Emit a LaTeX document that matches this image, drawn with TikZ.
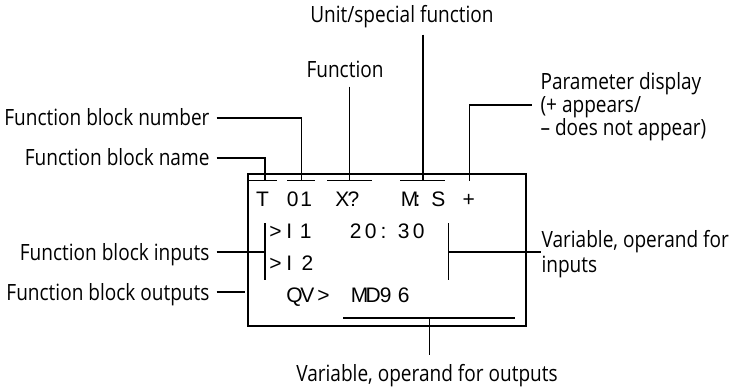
\documentclass[tikz,border=0pt]{standalone}
\usepackage{fontspec}
\setmainfont{Open Sans}[FakeStretch=0.85]
\newfontfamily\lcdfont{Liberation Sans}
\usetikzlibrary{positioning, calc}

\begin{document}
\begin{tikzpicture}[x=1pt, y=-1pt, line width=1.1pt,
    lbl/.style={inner sep=0pt, text height=16pt, text depth=0pt,
                font=\fontsize{22.4}{25}\selectfont},
    lcd/.style={inner sep=0pt, anchor=base west,
                font=\lcdfont\fontsize{21}{24}\selectfont}]
  \useasboundingbox (0,0) rectangle (738,390);

  % display
  \draw (248,174) rectangle (526,326);
  \foreach \i/\x/\y/\txt in {
      1/255.6/206/T, 2/286.2/206/0, 3/299.7/206/1, 4/334.8/206/X, 5/347/206/?,
      6/400.2/206/M, 7/414/206/:, 8/430.7/206/S, 9/462/206/+,
      10/268.7/238.5/>, 11/285.8/238.5/I, 12/299.4/238.5/1, 13/349.4/238.5/2,
      14/364.2/238.5/0, 15/380.1/238.5/:, 16/397.2/238.5/3, 17/412.2/238.5/0,
      18/268.7/270.5/>, 19/285.8/270.5/I, 20/301.1/270.5/2,
      21/285.9/302/Q, 22/299.8/302/V, 23/316.7/302/>,
      24/350.2/302/M, 25/365/302/D, 26/379.2/302/9, 27/397.2/302/6}
    \node[lcd] (c\i) at (\x,\y) {\txt};

  \foreach \a/\b in {249/276.5, 287/315, 327/372, 400/445}
    \draw (\a,180.5) -- (\b,180.5);
  \draw (265,223) -- (265,280);
  \draw (448.3,223) -- (448.3,279.5);
  \draw (343,318) -- (515,318);

  \coordinate (tName) at (265,180.5);
  \coordinate (tNum) at (301.5,180.5);
  \coordinate (tFun) at (349.5,180.5);
  \coordinate (tUnit) at (423,180.5);
  \coordinate (tPar) at (469.5,180.5);
  \coordinate (bIn) at (265,252);
  \coordinate (bOut) at (245,292);
  \coordinate (bVar) at (448.3,252);
  \coordinate (uOut) at (429.3,318);
  \coordinate (uOutEnd) at (429.3,355);

  % labels
  \node[lbl, anchor=east] (lname) at (210,158) {Function block name};
  \node[lbl, anchor=east] (lnum) at (210,118) {Function block number};
  \node[lbl, anchor=east] (lin) at (210,252) {Function block inputs};
  \node[lbl, anchor=east] (lout) at (210,292) {Function block outputs};
  \node[lbl, anchor=base] (lfun) at (345,78) {Function};
  \node[lbl, anchor=base] (lunit) at (402,23) {Unit/special function};
  \node[lbl, anchor=base west] (lpar1) at (540,90) {Parameter display};
  \node[lbl, anchor=base west] (lpar2) at (540,113) {(+ appears/};
  \node[lbl, anchor=base west] (lpar3) at (540,136) {– does not appear)};
  \node[lbl, anchor=base west] (lvar1) at (541,247) {Variable, operand for};
  \node[lbl, anchor=base west] (lvar2) at (541,272) {inputs};
  \node[lbl, anchor=base] (lvout) at (427,381) {Variable, operand for outputs};

  % leaders
  \draw ([xshift=6.5pt]lname.east) -| (tName);
  \draw ([xshift=6.5pt]lnum.east) -| (tNum);
  \draw ($(lfun.south -| tFun)+(0,8)$) -- (tFun);
  \draw ($(lunit.south -| tUnit)+(0,11)$) -- (tUnit);
  \draw (tPar) |- ($(lpar2.west)+(-8,0)$);
  \draw ([xshift=6.5pt]lin.east) -- (bIn);
  \draw ([xshift=6.5pt]lout.east) -- (bOut);
  \draw (bVar) -- (bVar -| lvar1.west);
  \draw (uOut) -- (uOutEnd);
\end{tikzpicture}
\end{document}
